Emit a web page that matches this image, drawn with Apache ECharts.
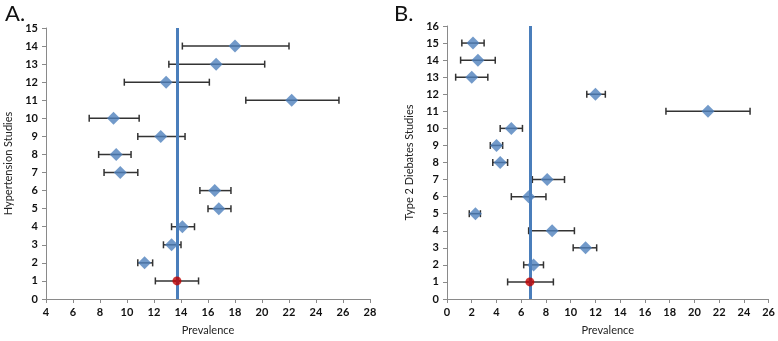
<!DOCTYPE html>
<html>
<head>
<meta charset="utf-8">
<script src="https://cdn.jsdelivr.net/npm/echarts@6/dist/echarts.min.js"></script>
<style>
  html, body { margin: 0; padding: 0; background: #fff; }
  #chart { width: 778px; height: 341px; }
</style>
</head>
<body>
<div id="chart"></div>
<script>
// study numbers (y) with point estimate and CI bounds
const studiesA = [1, 2, 3, 4, 5, 6, 7, 8, 9, 10, 11, 12, 13, 14];
const prevA = [13.7, 11.3, 13.3, 14.1, 16.8, 16.5, 9.5, 9.2, 12.5, 9.0, 22.2, 12.9, 16.6, 18.0];
const lowA = [12.1, 10.8, 12.7, 13.3, 16.0, 15.4, 8.3, 7.9, 10.8, 7.2, 18.8, 9.8, 13.1, 14.1];
const highA = [15.3, 11.9, 14.0, 15.0, 17.7, 17.7, 10.8, 10.3, 14.3, 10.9, 25.7, 16.1, 20.2, 22.0];
const pooledA = 13.7;

const studiesB = [1, 2, 3, 4, 5, 6, 7, 8, 9, 10, 11, 12, 13, 14, 15];
const prevB = [6.7, 7.0, 11.2, 8.5, 2.3, 6.6, 8.1, 4.3, 4.0, 5.2, 21.1, 12.0, 2.0, 2.5, 2.1];
const lowB = [4.9, 6.2, 10.2, 6.6, 1.8, 5.2, 6.9, 3.7, 3.5, 4.3, 17.7, 11.3, 0.7, 1.1, 1.2];
const highB = [8.6, 7.8, 12.1, 10.3, 2.7, 8.0, 9.5, 4.9, 4.5, 6.1, 24.5, 12.8, 3.3, 3.9, 3.0];
const pooledB = 6.75;

const blue = '#4F81BD';
const red = '#C00000';
const font = 'Lato, "Open Sans", sans-serif';

const chart = echarts.init(document.getElementById('chart'));

// error bar drawn as horizontal whisker with end caps
function errorBars(lo, hi, ys) {
    return lo.map((l, i) => [l, hi[i], ys[i]]);
}
function renderBar(params, api) {
    const y = api.value(2);
    const a = api.coord([api.value(0), y]);
    const b = api.coord([api.value(1), y]);
    const h = 3.5;
    const style = { stroke: '#333', lineWidth: 1.5 };
    return {
        type: 'group',
        children: [
            { type: 'line', shape: { x1: a[0], y1: a[1], x2: b[0], y2: b[1] }, style },
            { type: 'line', shape: { x1: a[0], y1: a[1] - h, x2: a[0], y2: a[1] + h }, style },
            { type: 'line', shape: { x1: b[0], y1: b[1] - h, x2: b[0], y2: b[1] + h }, style }
        ]
    };
}
function points(xs, ys) {
    return xs.map((x, i) => ({
        value: [x, ys[i]],
        symbol: i === 0 ? 'circle' : 'diamond',
        symbolSize: i === 0 ? 9 : 13,
        itemStyle: { color: i === 0 ? red : blue }
    }));
}

const axisLine = { lineStyle: { color: '#8a8a8a', width: 1 } };
const axisLabel = { color: '#111', fontSize: 11, fontWeight: 'bold', fontFamily: font };
const nameStyle = { color: '#222', fontSize: 11, fontFamily: font };

function xAxis(idx, min, max) {
    return {
        gridIndex: idx, type: 'value', min, max, interval: 2,
        name: 'Prevalence', nameLocation: 'middle', nameGap: 26, nameTextStyle: nameStyle,
        axisLine, axisTick: { show: true, length: 4, lineStyle: { color: '#8a8a8a' } },
        axisLabel: Object.assign({ margin: 8 }, axisLabel), splitLine: { show: false }
    };
}
function yAxis(idx, max, name) {
    return {
        gridIndex: idx, type: 'value', min: 0, max, interval: 1,
        name, nameLocation: 'middle', nameGap: 32, nameTextStyle: nameStyle,
        axisLine: Object.assign({ show: true }, axisLine),
        axisTick: { show: true, length: 4, lineStyle: { color: '#8a8a8a' } },
        axisLabel: Object.assign({ margin: 8 }, axisLabel), splitLine: { show: false }
    };
}
function pooledLine(x) {
    return {
        silent: true, symbol: 'none', label: { show: false },
        lineStyle: { color: '#4A7EBB', width: 3, type: 'solid' },
        data: [{ xAxis: x }]
    };
}

chart.setOption({
    animation: false,
    title: [
        { text: 'A.', left: 0, top: -2, textStyle: { fontSize: 22, fontWeight: 'normal', color: '#111', fontFamily: font } },
        { text: 'B.', left: 389, top: -2, textStyle: { fontSize: 22, fontWeight: 'normal', color: '#111', fontFamily: font } }
    ],
    grid: [
        { left: 46, right: 408, top: 28, bottom: 38 },
        { left: 447, right: 7, top: 26, bottom: 38 }
    ],
    xAxis: [xAxis(0, 4, 28), xAxis(1, 0, 26)],
    yAxis: [yAxis(0, 15, 'Hypertension Studies'), yAxis(1, 16, 'Type 2 Diebates Studies')],
    series: [
        {
            type: 'custom', xAxisIndex: 0, yAxisIndex: 0, renderItem: renderBar,
            encode: { x: [0, 1], y: 2 }, data: errorBars(lowA, highA, studiesA), z: 2,
            markLine: pooledLine(pooledA)
        },
        {
            type: 'scatter', xAxisIndex: 0, yAxisIndex: 0, data: points(prevA, studiesA), z: 5
        },
        {
            type: 'custom', xAxisIndex: 1, yAxisIndex: 1, renderItem: renderBar,
            encode: { x: [0, 1], y: 2 }, data: errorBars(lowB, highB, studiesB), z: 2,
            markLine: pooledLine(pooledB)
        },
        {
            type: 'scatter', xAxisIndex: 1, yAxisIndex: 1, data: points(prevB, studiesB), z: 5
        }
    ]
});
</script>
</body>
</html>
